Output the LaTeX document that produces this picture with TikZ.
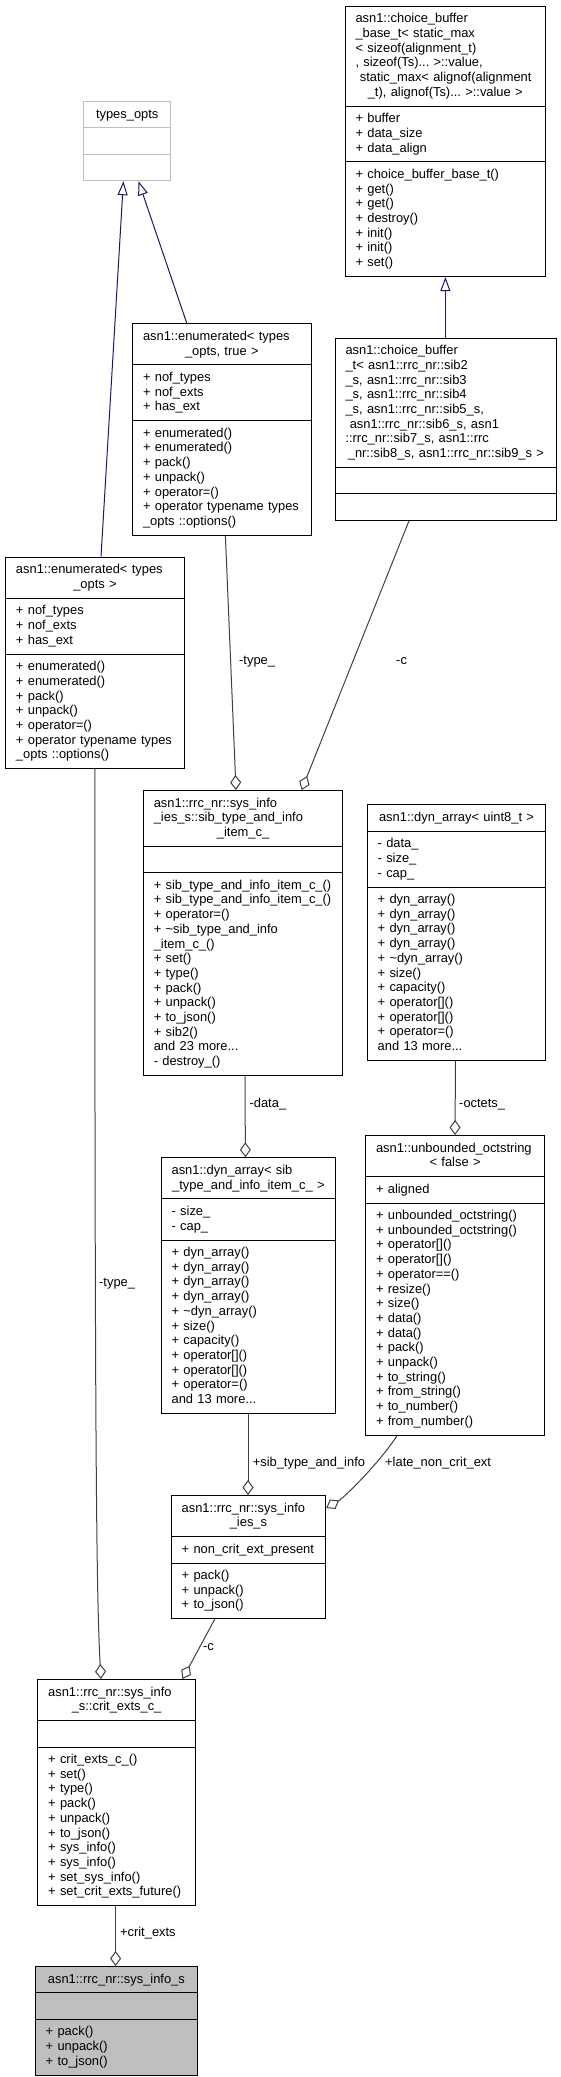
\documentclass[tikz,border=0pt]{standalone}
\usepackage{fontspec}
\setmainfont{Liberation Sans}
\usetikzlibrary{shapes.multipart}
\usetikzlibrary{arrows.meta}
\definecolor{edgegray}{HTML}{404040}
\definecolor{inhblue}{HTML}{191970}
\definecolor{extgray}{HTML}{BFBFBF}
\newcommand{\rs}{\rule[-4pt]{0pt}{14.7pt}}
\newcommand{\ctr}[1]{\hspace*{\fill}#1\hspace*{\fill}}
\newcommand{\classfont}{\fontsize{12.9}{14.7}\selectfont}
\hyphenpenalty=10000
\exhyphenpenalty=10000

\begin{document}
\begin{tikzpicture}[x=1pt, y=-1pt,
    umlcls/.style={rectangle split, rectangle split parts=3, draw, line width=1pt, anchor=north west,
      align=left, text width=#1, inner xsep=10.5pt, inner ysep=5.35pt, font=\classfont},
    aggr/.style={draw=edgegray, line width=1pt, -{Diamond[open, length=15pt, width=11pt]}},
    inh/.style={draw=inhblue, line width=1pt, -{Triangle[open, length=14pt, width=10pt]}},
    lbl/.style={font=\classfont, inner sep=0pt, anchor=base west}]
      \useasboundingbox (0,0) rectangle (561,2077);

      \node[umlcls=65.6pt, draw=extgray] (typesOpts) at (83.4,101) {
        \nodepart{one}\ctr{types\_opts}\rs
        \nodepart{two}\rs
        \nodepart{three}\rs
      };

      \node[umlcls=179.5pt] (cbBase) at (344.5,5.7) {
        \nodepart{one}\rs asn1::choice\_buffer\\ \_base\_t<~static\_max\\ <~sizeof(alignment\_t)\\ ,~sizeof(Ts)...~>::value,\\ ~static\_max<~alignof(alignment\\ \ctr{\_t),~alignof(Ts)...~>::value~>}\rs
        \nodepart{two}\rs +~buffer\\ +~data\_size\\ +~data\_align\rs
        \nodepart{three}\rs +~choice\_buffer\_base\_t()\\ +~get()\\ +~get()\\ +~destroy()\\ +~init()\\ +~init()\\ +~set()\rs
      };

      \node[umlcls=157.6pt] (enumT) at (132,323.3) {
        \nodepart{one}\rs asn1::enumerated<~types\\ \ctr{\_opts,~true~>}\rs
        \nodepart{two}\rs +~nof\_types\\ +~nof\_exts\\ +~has\_ext\rs
        \nodepart{three}\rs +~enumerated()\\ +~enumerated()\\ +~pack()\\ +~unpack()\\ +~operator=()\\ +~operator~typename~types\\ \_opts~::options()\rs
      };

      \node[umlcls=200.8pt] (choicebuf) at (334.5,337.7) {
        \nodepart{one}\rs asn1::choice\_buffer\\ \_t<~asn1::rrc\_nr::sib2\\ \_s,~asn1::rrc\_nr::sib3\\ \_s,~asn1::rrc\_nr::sib4\\ \_s,~asn1::rrc\_nr::sib5\_s,\\ ~asn1::rrc\_nr::sib6\_s,~asn1\\ ::rrc\_nr::sib7\_s,~asn1::rrc\\ \ctr{\_nr::sib8\_s,~asn1::rrc\_nr::sib9\_s~>}\rs
        \nodepart{two}\rs
        \nodepart{three}\rs
      };

      \node[umlcls=158pt] (enumO) at (5,556.7) {
        \nodepart{one}\rs asn1::enumerated<~types\\ \ctr{\_opts~>}\rs
        \nodepart{two}\rs +~nof\_types\\ +~nof\_exts\\ +~has\_ext\rs
        \nodepart{three}\rs +~enumerated()\\ +~enumerated()\\ +~pack()\\ +~unpack()\\ +~operator=()\\ +~operator~typename~types\\ \_opts~::options()\rs
      };

      \node[umlcls=178.6pt] (sibitem) at (142.8,790) {
        \nodepart{one}\rs asn1::rrc\_nr::sys\_info\\ \_ies\_s::sib\_type\_and\_info\\ \ctr{\_item\_c\_}\rs
        \nodepart{two}\rs
        \nodepart{three}\rs +~sib\_type\_and\_info\_item\_c\_()\\ +~sib\_type\_and\_info\_item\_c\_()\\ +~operator=()\\ +~\textasciitilde sib\_type\_and\_info\\ \_item\_c\_()\\ +~set()\\ +~type()\\ +~pack()\\ +~unpack()\\ +~to\_json()\\ +~sib2()\\ and~23~more...\\ -~destroy\_()\rs
      };

      \node[umlcls=157.6pt] (dynU8) at (366.7,804.3) {
        \nodepart{one}\ctr{asn1::dyn\_array<~uint8\_t~>}\rs
        \nodepart{two}\rs -~data\_\\ -~size\_\\ -~cap\_\rs
        \nodepart{three}\rs +~dyn\_array()\\ +~dyn\_array()\\ +~dyn\_array()\\ +~dyn\_array()\\ +~\textasciitilde dyn\_array()\\ +~size()\\ +~capacity()\\ +~operator[]()\\ +~operator[]()\\ +~operator=()\\ and~13~more...\rs
      };

      \node[umlcls=153.6pt] (dynSib) at (160.6,1157.3) {
        \nodepart{one}\rs asn1::dyn\_array<~sib\\ \ctr{\_type\_and\_info\_item\_c\_~>}\rs
        \nodepart{two}\rs -~size\_\\ -~cap\_\rs
        \nodepart{three}\rs +~dyn\_array()\\ +~dyn\_array()\\ +~dyn\_array()\\ +~dyn\_array()\\ +~\textasciitilde dyn\_array()\\ +~size()\\ +~capacity()\\ +~operator[]()\\ +~operator[]()\\ +~operator=()\\ and~13~more...\rs
      };

      \node[umlcls=158.2pt] (octstr) at (365,1135) {
        \nodepart{one}\rs asn1::unbounded\_octstring\\ \ctr{<~false~>}\rs
        \nodepart{two}\rs +~aligned\rs
        \nodepart{three}\rs +~unbounded\_octstring()\\ +~unbounded\_octstring()\\ +~operator[]()\\ +~operator[]()\\ +~operator==()\\ +~resize()\\ +~size()\\ +~data()\\ +~data()\\ +~pack()\\ +~unpack()\\ +~to\_string()\\ +~from\_string()\\ +~to\_number()\\ +~from\_number()\rs
      };

      \node[umlcls=133.5pt] (iesS) at (170.7,1495) {
        \nodepart{one}\rs asn1::rrc\_nr::sys\_info\\ \ctr{\_ies\_s}\rs
        \nodepart{two}\rs +~non\_crit\_ext\_present\rs
        \nodepart{three}\rs +~pack()\\ +~unpack()\\ +~to\_json()\rs
      };

      \node[umlcls=136.8pt] (critExts) at (37.2,1679) {
        \nodepart{one}\rs asn1::rrc\_nr::sys\_info\\ \ctr{\_s::crit\_exts\_c\_}\rs
        \nodepart{two}\rs
        \nodepart{three}\rs +~crit\_exts\_c\_()\\ +~set()\\ +~type()\\ +~pack()\\ +~unpack()\\ +~to\_json()\\ +~sys\_info()\\ +~sys\_info()\\ +~set\_sys\_info()\\ +~set\_crit\_exts\_future()\rs
      };

      \node[umlcls=141.4pt, fill=extgray] (sysInfo) at (34.7,1966) {
        \nodepart{one}\ctr{asn1::rrc\_nr::sys\_info\_s}\rs
        \nodepart{two}\rs
        \nodepart{three}\rs +~pack()\\ +~unpack()\\ +~to\_json()\rs
      };

      \draw [inh] ([xshift=96pt]enumO.north west) -- ([xshift=40pt]typesOpts.south west);
      \draw [inh] ([xshift=54.8pt]enumT.north west) -- ([xshift=55.1pt]typesOpts.south west);
      \draw [inh] ([xshift=110.9pt]choicebuf.north west) -- ([xshift=100.9pt]cbBase.south west);

      \draw [aggr] ([xshift=93.4pt]enumT.south west) -- ([xshift=93.2pt]sibitem.north west);
      \draw [aggr] ([xshift=74.5pt]choicebuf.south west) -- ([xshift=158.8pt]sibitem.north west);
      \draw [aggr] ([xshift=89.8pt]enumO.south west) .. controls (94.8,1450) and (96.5,1600) .. ([xshift=63.8pt]critExts.north west);
      \draw [aggr] ([xshift=102.2pt]sibitem.south west) -- ([xshift=84.8pt]dynSib.north west);
      \draw [aggr] ([xshift=88.8pt]dynU8.south west) -- ([xshift=90pt]octstr.north west);
      \draw [aggr] ([xshift=87.4pt]dynSib.south west) -- ([xshift=77.3pt]iesS.north west);
      \draw [aggr] ([xshift=32pt]octstr.south west) .. controls (380,1462) and (345,1497) .. ([yshift=-13pt]iesS.north east);
      \draw [aggr] ([xshift=44pt]iesS.south west) -- ([xshift=145.3pt]critExts.north west);
      \draw [aggr] ([xshift=78.4pt]critExts.south west) -- ([xshift=80.9pt]sysInfo.north west);

      \node[lbl] (typeLblA) at (239,664) {-type\_};
      \node[lbl] (cLblA) at (396,664) {-c};
      \node[lbl] (typeLblB) at (99,1286.7) {-type\_};
      \node[lbl] (dataLbl) at (249.4,1107.3) {-data\_};
      \node[lbl] (octetsLbl) at (459,1107.3) {-octets\_};
      \node[lbl] (sibLbl) at (252.6,1466.7) {+sib\_type\_and\_info};
      \node[lbl] (lateLbl) at (385,1466.7) {+late\_non\_crit\_ext};
      \node[lbl] (cLblB) at (203,1650.7) {-c};
      \node[lbl] (critLbl) at (119.9,1936.7) {+crit\_exts};
    \end{tikzpicture}
\end{document}
